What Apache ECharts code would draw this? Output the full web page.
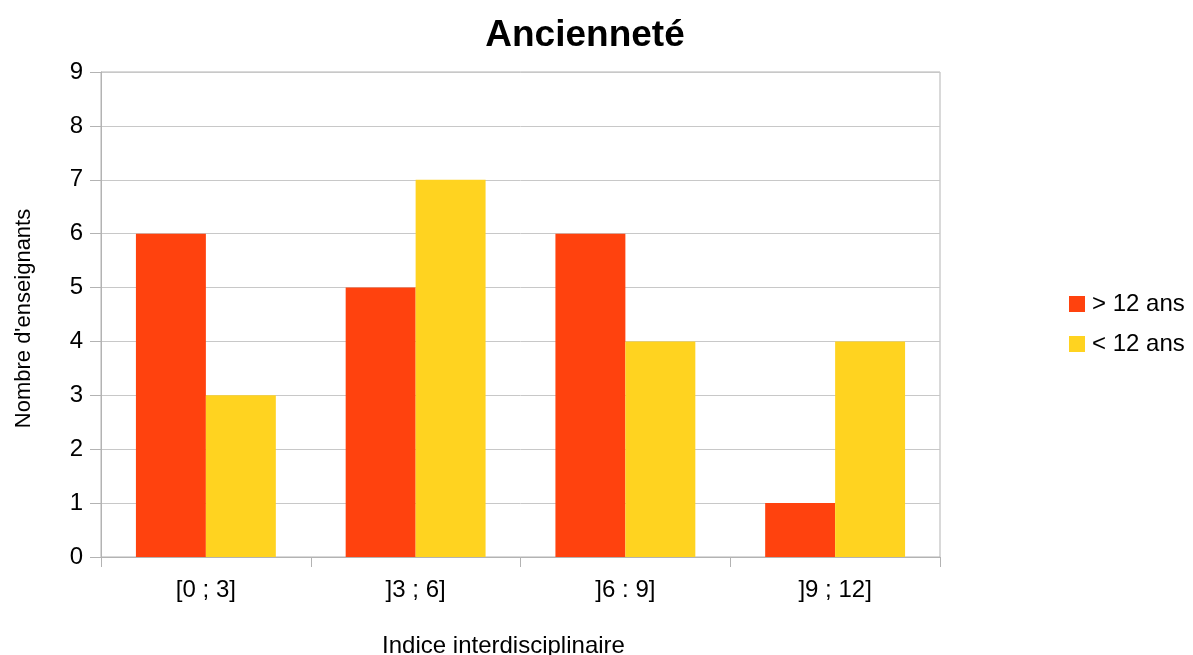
<!DOCTYPE html>
<html><head><meta charset="utf-8">
<script src="https://cdn.jsdelivr.net/npm/echarts@6/dist/echarts.min.js"></script>
<style>html,body{margin:0;padding:0;background:#fff}#c{width:1193px;height:655px}</style>
</head><body><div id="c"></div>
<script>
const categories = ['[0 ; 3]', ']3 ; 6]', ']6 : 9]', ']9 ; 12]'];
const seriesNames = ['> 12 ans', '< 12 ans'];
const over12 = [6, 5, 6, 1];
const under12 = [3, 7, 4, 4];
const colors = ['#ff420e', '#ffd320'];

const chart = echarts.init(document.getElementById('c'));
const font = 'Liberation Sans';
chart.setOption({
  animation: false,
  backgroundColor: '#fff',
  title: {text: 'Ancienneté', left: 580, textAlign: 'center', top: 12,
    textStyle: {fontFamily: font, fontSize: 37, fontWeight: 'bold', color: '#000'}},
  legend: {orient: 'vertical', left: 1064, top: 287, itemWidth: 16, itemHeight: 16, itemGap: 16,
    icon: 'rect', textStyle: {fontFamily: font, fontSize: 24, color: '#000', padding: [0,0,0,2]},
    data: seriesNames},
  grid: {left: 101, right: 253, top: 72, bottom: 98, show: true, borderColor: '#b3b3b3', borderWidth: 1,
    outerBoundsMode: 'none', containLabel: false},
  xAxis: {type: 'category', data: categories,
    name: 'Indice interdisciplinaire', nameLocation: 'middle', nameGap: 77,
    nameTextStyle: {fontFamily: font, fontSize: 24, color: '#000', padding: [0, 34, 0, 0]},
    axisLine: {lineStyle: {color: '#b3b3b3'}},
    axisTick: {show: true, length: 10, lineStyle: {color: '#b3b3b3'}},
    axisLabel: {fontFamily: font, fontSize: 24, color: '#000', margin: 21}},
  yAxis: {type: 'value', min: 0, max: 9, interval: 1,
    name: "Nombre d'enseignants", nameLocation: 'middle', nameGap: 66,
    nameTextStyle: {fontFamily: font, fontSize: 22, color: '#000', padding: [0, 8, 0, 0]},
    axisLine: {show: true, lineStyle: {color: '#b3b3b3'}},
    axisTick: {show: true, length: 11, lineStyle: {color: '#b3b3b3'}},
    splitLine: {lineStyle: {color: '#c8c8c8'}},
    axisLabel: {fontFamily: font, fontSize: 24, color: '#000', margin: 18}},
  series: [
    {name: seriesNames[0], type: 'bar', data: over12, itemStyle: {color: colors[0]}, barGap: '0%', barCategoryGap: '33.3%'},
    {name: seriesNames[1], type: 'bar', data: under12, itemStyle: {color: colors[1]}, barGap: '0%', barCategoryGap: '33.3%'}
  ]
});
</script></body></html>
